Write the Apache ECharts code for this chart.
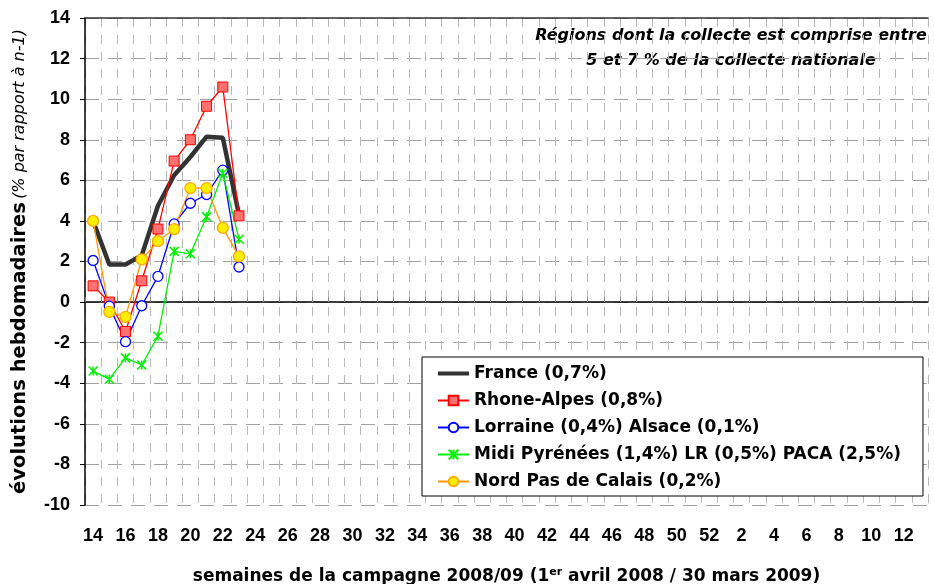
<!DOCTYPE html>
<html><head><meta charset="utf-8">
<script src="https://cdn.jsdelivr.net/npm/echarts@6/dist/echarts.min.js"></script>
<style>html,body{margin:0;padding:0;background:#fff}#c{width:934px;height:584px}</style>
</head><body><div id="c"></div>
<script>
var weeks = [];
for (var w = 14; w <= 52; w++) weeks.push(String(w));
for (var w2 = 1; w2 <= 13; w2++) weeks.push(String(w2));

var france = [4.0, 1.85, 1.85, 2.3, 4.75, 6.25, 7.15, 8.15, 8.1, 4.3];
var rhoneAlpes = [0.8, 0.0, -1.45, 1.05, 3.6, 6.95, 8.0, 9.65, 10.6, 4.25];
var lorraine = [2.05, -0.2, -1.95, -0.18, 1.27, 3.85, 4.87, 5.3, 6.5, 1.73];
var midi = [-3.4, -3.8, -2.75, -3.1, -1.68, 2.5, 2.38, 4.2, 6.35, 3.1];
var nord = [4.0, -0.48, -0.73, 2.1, 3.0, 3.6, 5.62, 5.62, 3.66, 2.25];

var names = ['France (0,7%)', 'Rhone-Alpes (0,8%)', 'Lorraine (0,4%) Alsace (0,1%)',
  'Midi Pyrénées (1,4%) LR (0,5%) PACA (2,5%)', 'Nord Pas de Calais (0,2%)'];

var FONT = '"Liberation Sans", Arial, sans-serif';
var WIDE = '"DejaVu Sans", sans-serif';
var starPath = 'path://M0,0 L10,10 M10,0 L0,10 M5,0 L5,10';

var chart = echarts.init(document.getElementById('c'));
chart.setOption({
  animation: false,
  backgroundColor: '#fff',
  textStyle: { fontFamily: FONT },
  grid: { left: 85, right: 6, top: 18, bottom: 79, outerBoundsMode: 'none', containLabel: false },
  legend: {
    left: 422, top: 357,
    orient: 'vertical',
    backgroundColor: '#fff',
    borderColor: '#000', borderWidth: 1,
    padding: [8, 22, 6, 14],
    itemGap: 10, itemWidth: 31, itemHeight: 12,
    textStyle: { fontFamily: WIDE, fontWeight: 'bold', fontSize: 17, color: '#000' },
    data: [
      { name: names[0], itemStyle: { opacity: 0 }, lineStyle: { width: 4, color: '#333' } },
      names[1], names[2], names[3], names[4]
    ]
  },
  graphic: [{
    type: 'text', x: 731, y: 23,
    style: {
      text: 'Régions dont la collecte est comprise entre\n5 et 7 % de la collecte nationale',
      font: 'italic bold 16px ' + WIDE, fill: '#000', align: 'center',
      lineHeight: 25
    }
  }],
  xAxis: [{
    type: 'category', data: weeks, boundaryGap: true,
    axisLine: { lineStyle: { color: '#000', width: 1.5 } },
    axisTick: { show: true, inside: true, interval: 0, length: 5, lineStyle: { color: '#888' } },
    axisLabel: { interval: 1, margin: 22, color: '#000', fontWeight: 'bold', fontSize: 18, fontFamily: FONT },
    splitLine: { show: true, interval: 0, lineStyle: { color: '#b8b8b8', type: [9, 8], width: 1 } },
    name: '{b|semaines de la campagne 2008/09 (1}{s|er}{b| avril 2008 / 30 mars 2009)}',
    nameLocation: 'middle', nameGap: 62,
    nameTextStyle: {
      rich: {
        b: { fontWeight: 'bold', fontSize: 17, color: '#000', fontFamily: WIDE },
        s: { fontWeight: 'bold', fontSize: 11, color: '#000', fontFamily: WIDE, verticalAlign: 'top', padding: [0, 0, 9, 0] }
      }
    }
  }, {
    type: 'category', data: weeks, position: 'top',
    axisLine: { lineStyle: { color: '#333', width: 1.5 } },
    axisTick: { show: false }, axisLabel: { show: false }, splitLine: { show: false }
  }],
  yAxis: {
    type: 'value', min: -10, max: 14, interval: 2,
    axisLine: { show: true, lineStyle: { color: '#000', width: 1.5 } },
    axisTick: { show: true, length: 5, lineStyle: { color: '#000' } },
    axisLabel: { color: '#000', fontWeight: 'bold', fontSize: 18, fontFamily: FONT, margin: 15 },
    splitLine: { show: true, lineStyle: { color: '#a0a0a0', type: [14, 9], width: 1 } },
    name: '{b|évolutions hebdomadaires} {i|(% par rapport à n-1)}',
    nameLocation: 'middle', nameRotate: 90, nameGap: 55,
    nameTextStyle: {
      rich: {
        b: { fontWeight: 'bold', fontSize: 19.5, color: '#000', fontFamily: WIDE },
        i: { fontStyle: 'italic', fontSize: 16, color: '#000', fontFamily: WIDE }
      }
    }
  },
  series: [
    {
      name: names[0], type: 'line', data: france, symbol: 'none',
      lineStyle: { color: '#333', width: 4.5 }, itemStyle: { color: '#333' }, z: 3
    },
    {
      name: names[1], type: 'line', data: rhoneAlpes, symbol: 'rect', symbolSize: 10,
      showAllSymbol: true,
      lineStyle: { color: '#ff0000', width: 1.3 },
      itemStyle: { color: '#ff7070', borderColor: '#ff0000', borderWidth: 1 }, z: 4
    },
    {
      name: names[2], type: 'line', data: lorraine, symbol: 'circle', symbolSize: 10,
      showAllSymbol: true,
      lineStyle: { color: '#0000ff', width: 1.3 },
      itemStyle: { color: '#fff', borderColor: '#0000ff', borderWidth: 1.3 }, z: 4
    },
    {
      name: names[3], type: 'line', data: midi, symbol: starPath, symbolSize: 9,
      showAllSymbol: true,
      lineStyle: { color: '#00ee00', width: 1.3 },
      itemStyle: { color: 'rgba(0,0,0,0)', borderColor: '#00ee00', borderWidth: 1.5 }, z: 4
    },
    {
      name: names[4], type: 'line', data: nord, symbol: 'circle', symbolSize: 11,
      showAllSymbol: true,
      lineStyle: { color: '#ff9900', width: 1.3 },
      itemStyle: { color: '#ffee00', borderColor: '#ffaa00', borderWidth: 1.3 }, z: 4
    }
  ]
});
</script></body></html>
